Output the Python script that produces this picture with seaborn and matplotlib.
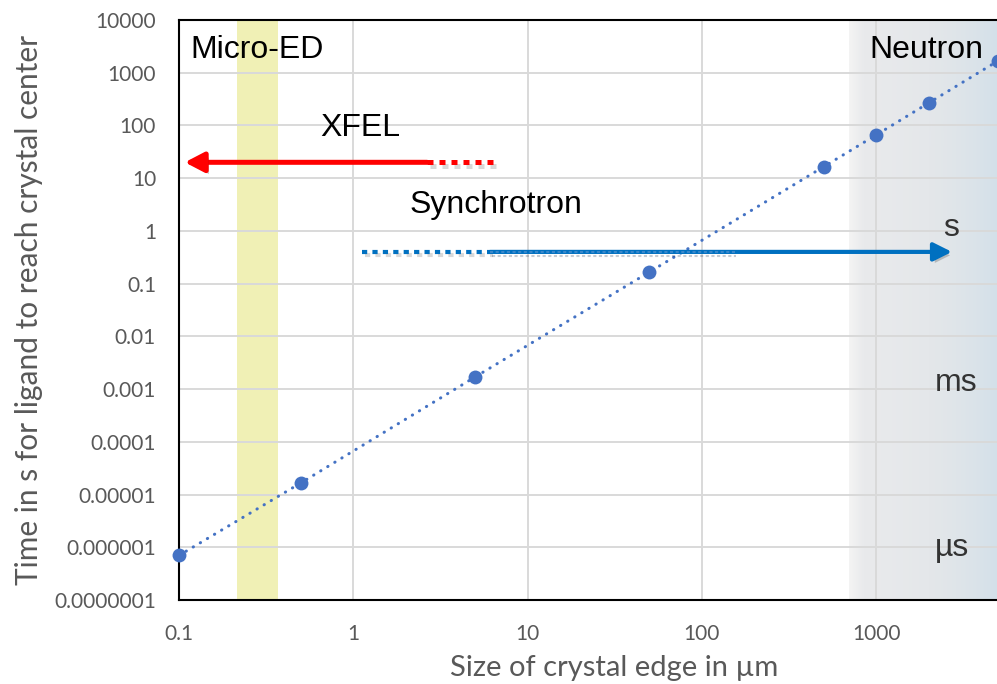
import numpy as np
import pandas as pd
import matplotlib
matplotlib.use("Agg")
import matplotlib.pyplot as plt
import seaborn as sns
from matplotlib.ticker import FixedLocator, FixedFormatter, NullLocator
from matplotlib.colors import LinearSegmentedColormap
import matplotlib.patheffects as pe

# ---------------- data ----------------
crystal_size_um = [0.1, 0.5, 5, 50, 500, 1000, 2000, 5000]
time_s = [7e-7, 1.66e-5, 1.7e-3, 0.166, 16.5, 66, 267, 1680]

y_ticks = [1e4, 1e3, 1e2, 1e1, 1, 0.1, 0.01, 1e-3, 1e-4, 1e-5, 1e-6, 1e-7]
y_tick_labels = ["10000", "1000", "100", "10", "1", "0.1", "0.01", "0.001",
                 "0.0001", "0.00001", "0.000001", "0.0000001"]
x_ticks = [0.1, 1, 10, 100, 1000]
x_tick_labels = ["0.1", "1", "10", "100", "1000"]

micro_ed_band = [0.215, 0.37]
neutron_band = [700, 5000]

xfel_level = 20
xfel_solid = [2.65, 0.108]     # start, arrow tip
xfel_dotted = [2.65, 6.8]
sync_level = 0.4
sync_dotted = [1.12, 6.1]
sync_solid = [6.1, 2720]       # start, arrow tip
sync_overlay = [6.1, 155]

x_limits = [0.1, 5000]
y_limits = [1e-7, 1e4]

df = pd.DataFrame({"size": crystal_size_um, "time": time_s})

# ---------------- figure ----------------
sns.set_theme(style="white")
plt.rcParams["font.family"] = ["Lato", "DejaVu Sans"]

fig = plt.figure(figsize=(9.97, 6.84), dpi=100)
ax = fig.add_axes([179 / 997, 84 / 684, 819 / 997, 580 / 684])
ax.set_xscale("log")
ax.set_yscale("log")

# neutron gradient region
cmap = LinearSegmentedColormap.from_list(
    "neut", [(0.0, "#f3f3f3"), (0.03, "#e9eaec"), (0.3, "#e4e7ea"), (1.0, "#d3e0e9")])
grad = np.linspace(0, 1, 256).reshape(1, -1)
ax.imshow(grad, extent=(neutron_band[0], neutron_band[1], y_limits[0], y_limits[1]),
          aspect="auto", cmap=cmap, zorder=0.2, interpolation="bilinear")

# micro-ED band
ax.axvspan(micro_ed_band[0], micro_ed_band[1], color="#eeeea8", alpha=0.85, zorder=0.3, lw=0)

# grid
ax.set_axisbelow(True)
ax.grid(True, which="major", color="#d9d9d9", lw=1.4)
for ln in ax.get_xgridlines() + ax.get_ygridlines():
    ln.set_zorder(0.6)

# data line
sns.lineplot(data=df, x="size", y="time", ax=ax, color="#4472C4", lw=2.2,
             linestyle=(0, (0.1, 2.6)), dash_capstyle="round",
             marker="o", markersize=10, markeredgewidth=0, zorder=3, clip_on=False)

shadow_line = [pe.SimpleLineShadow(offset=(2, -2.5), shadow_color="#000000", alpha=0.15), pe.Normal()]
shadow_patch = [pe.SimplePatchShadow(offset=(2, -2.5), shadow_rgbFace="#000000", alpha=0.2), pe.Normal()]

# XFEL arrow
ax.plot(xfel_dotted, [xfel_level, xfel_level], color="#ff0000", lw=3.6,
        linestyle=(0, (1.2, 1.2)), zorder=4, path_effects=shadow_line)
a1 = ax.annotate("", xy=(xfel_solid[1], xfel_level), xytext=(xfel_solid[0], xfel_level),
                 arrowprops=dict(arrowstyle="-|>,head_length=1.15,head_width=0.6",
                                 color="#ff0000", lw=3.6, shrinkA=0, shrinkB=0,
                                 mutation_scale=10), zorder=4)
a1.arrow_patch.set_path_effects(shadow_patch)

# Synchrotron arrow
ax.plot(sync_dotted, [sync_level, sync_level], color="#0070C0", lw=3.0,
        linestyle=(0, (1.25, 1.25)), zorder=4, path_effects=shadow_line)
a2 = ax.annotate("", xy=(sync_solid[1], sync_level), xytext=(sync_solid[0], sync_level),
                 arrowprops=dict(arrowstyle="-|>,head_length=1.1,head_width=0.55",
                                 color="#0070C0", lw=3.0, shrinkA=0, shrinkB=0,
                                 mutation_scale=10), zorder=4)
a2.arrow_patch.set_path_effects(shadow_patch)
ax.plot(sync_overlay, [sync_level, sync_level], color="#3a87c9", lw=1.5,
        linestyle=(0, (1.5, 1.2)), zorder=4.1,
        path_effects=[pe.SimpleLineShadow(offset=(1, -3), shadow_color="#1f3550", alpha=0.25), pe.Normal()])

# labels inside plot
tfont = dict(family=["Liberation Sans", "DejaVu Sans"], fontsize=23)
ax.text(0.1157, 2700, "Micro-ED", color="black", ha="left", va="center", zorder=5, **tfont)
ax.text(0.644, 90, "XFEL", color="black", ha="left", va="center", zorder=5, **tfont)
ax.text(2.11, 3.1, "Synchrotron", color="black", ha="left", va="center", zorder=5, **tfont)
ax.text(920, 2700, "Neutron", color="black", ha="left", va="center", zorder=5, **tfont)
ax.text(2420, 1.13, "s", color="#333333", ha="left", va="center", zorder=5, **tfont)
ax.text(2170, 1.3e-3, "ms", color="#333333", ha="left", va="center", zorder=5, **tfont)
ax.text(2170, 9.7e-7, "µs", color="#333333", ha="left", va="center", zorder=5, **tfont)

# axes
ax.set_xlim(*x_limits)
ax.set_ylim(*y_limits)
ax.xaxis.set_major_locator(FixedLocator(x_ticks))
ax.xaxis.set_major_formatter(FixedFormatter(x_tick_labels))
ax.xaxis.set_minor_locator(NullLocator())
ax.yaxis.set_major_locator(FixedLocator(y_ticks))
ax.yaxis.set_major_formatter(FixedFormatter(y_tick_labels))
ax.yaxis.set_minor_locator(NullLocator())
ax.tick_params(axis="both", which="both", length=0, labelsize=15, labelcolor="#595959")
ax.tick_params(axis="y", pad=16.5)
ax.tick_params(axis="x", pad=17)

ax.set_xlabel("Size of crystal edge in µm", fontsize=21, color="#595959", labelpad=8)
ax.xaxis.label.set_x(0.531)
ax.set_ylabel("Time in s for ligand to reach crystal center", fontsize=21.5, color="#595959", labelpad=8)

for side in ["left", "top", "bottom"]:
    ax.spines[side].set_color("black")
    ax.spines[side].set_linewidth(1.5)
    ax.spines[side].set_zorder(2)
ax.spines["right"].set_visible(False)

fig.savefig("out.png", dpi=100)
